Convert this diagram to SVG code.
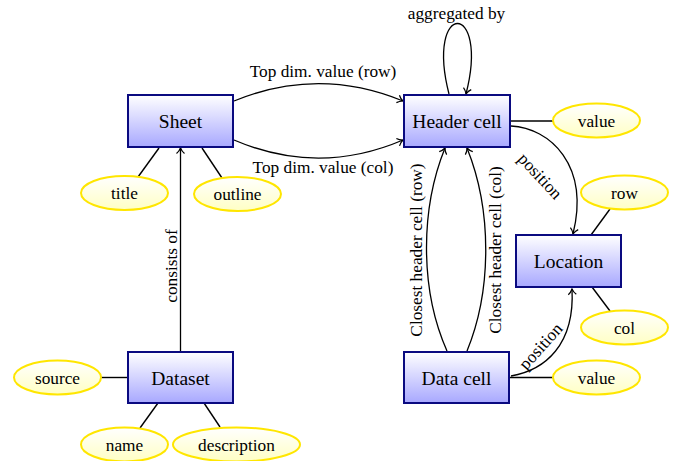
<svg xmlns="http://www.w3.org/2000/svg" width="676" height="461" viewBox="0 0 676 461">
<style>
.box{stroke:#0a0a80;stroke-width:2;fill:url(#gb)}
.ell{stroke:#ffe600;stroke-width:2;fill:url(#gy)}
.nt{font-family:"Liberation Serif","Times New Roman",serif;font-size:19.5px;fill:#000;text-anchor:middle}
.et{font-family:"Liberation Serif","Times New Roman",serif;font-size:17.3px;fill:#000;text-anchor:middle}
.ln{stroke:#000;stroke-width:1.4;fill:none}
.ar{stroke:#000;stroke-width:1.3;fill:none;marker-end:url(#arr)}
</style>
<defs>
<linearGradient id="gb" x1="0" y1="0" x2="0" y2="1"><stop offset="0" stop-color="#ffffff"/><stop offset="1" stop-color="#a8a8ff"/></linearGradient>
<linearGradient id="gy" x1="0" y1="0" x2="0" y2="1"><stop offset="0" stop-color="#ffffff"/><stop offset="1" stop-color="#ffffc4"/></linearGradient>
<marker id="arr" markerUnits="userSpaceOnUse" markerWidth="12" markerHeight="12" viewBox="-8 -6 12 12" refX="0" refY="0" orient="auto" overflow="visible">
<path d="M-5.5,-4 C-3.5,-1.5 -1,-0.4 0,0 C-1,0.4 -3.5,1.5 -5.5,4" fill="none" stroke="#000" stroke-width="1.2"/>
</marker>
</defs>
<rect width="676" height="461" fill="#ffffff"/>
<g id="connectors">
<path class="ar" d="M234,101 C290,78 347,78 403,101"/>
<path class="ar" d="M234,140 C290,164 347,164 403,140"/>
<path class="ar" d="M449,94 C425,0 490,0 466,94"/>
<path class="ar" d="M511,126 C550,128 590,165 573,234"/>
<path class="ar" d="M511,376 C545,370 575,345 572,289"/>
<path class="ar" d="M447,351 C420,290 420,210 445,148"/>
<path class="ar" d="M467,351 C492,290 492,210 467,148"/>
<path class="ar" d="M180.5,351 L180.5,148"/>
<line class="ln" x1="159" y1="148" x2="138" y2="177"/>
<line class="ln" x1="202" y1="148" x2="222" y2="178"/>
<line class="ln" x1="511" y1="121" x2="553" y2="121"/>
<line class="ln" x1="610" y1="209" x2="591" y2="235"/>
<line class="ln" x1="592" y1="287" x2="610" y2="311"/>
<line class="ln" x1="510" y1="377.5" x2="553" y2="377.5"/>
<line class="ln" x1="101" y1="377.5" x2="128" y2="377.5"/>
<line class="ln" x1="158" y1="403" x2="140" y2="428"/>
<line class="ln" x1="204" y1="403" x2="220" y2="427"/>
<text class="et" x="323" y="77">Top dim. value (row)</text>
<text class="et" x="323" y="173">Top dim. value (col)</text>
<text class="et" x="456.5" y="19">aggregated by</text>
<text class="et" x="536" y="180" transform="rotate(47 536 180)">position</text>
<text class="et" x="545" y="350" transform="rotate(-48 545 350)">position</text>
<text class="et" x="422" y="250" transform="rotate(-90 422 250)">Closest header cell (row)</text>
<text class="et" x="501" y="250" transform="rotate(-90 501 250)">Closest header cell (col)</text>
<text class="et" x="177" y="266" transform="rotate(-90 177 266)">consists of</text>
</g>
<g id="sheet"><rect class="box" x="128" y="95" width="105" height="52"/><text class="nt" x="180.5" y="128">Sheet</text></g>
<g id="header-cell"><rect class="box" x="404" y="95" width="106" height="52"/><text class="nt" x="457" y="128">Header cell</text></g>
<g id="location"><rect class="box" x="516" y="235" width="105" height="52"/><text class="nt" x="568.5" y="268">Location</text></g>
<g id="data-cell"><rect class="box" x="404" y="352" width="105" height="51"/><text class="nt" x="456.5" y="384.5">Data cell</text></g>
<g id="dataset"><rect class="box" x="128" y="352" width="105" height="51"/><text class="nt" x="180.5" y="384.5">Dataset</text></g>
<g id="title"><ellipse class="ell" cx="124.5" cy="193" rx="43.5" ry="17"/><text class="et" x="124.5" y="199">title</text></g>
<g id="outline"><ellipse class="ell" cx="237.5" cy="194" rx="43.5" ry="17"/><text class="et" x="237.5" y="200">outline</text></g>
<g id="value-header"><ellipse class="ell" cx="596.5" cy="120.5" rx="43.5" ry="17"/><text class="et" x="596.5" y="127">value</text></g>
<g id="row"><ellipse class="ell" cx="624.5" cy="192.5" rx="43.5" ry="17"/><text class="et" x="624.5" y="198.5">row</text></g>
<g id="col"><ellipse class="ell" cx="624.5" cy="327.5" rx="43.5" ry="17"/><text class="et" x="624.5" y="333.5">col</text></g>
<g id="value-data"><ellipse class="ell" cx="596.5" cy="377.5" rx="43.5" ry="17"/><text class="et" x="596.5" y="383.5">value</text></g>
<g id="source"><ellipse class="ell" cx="57.5" cy="377.5" rx="43.5" ry="17"/><text class="et" x="57.5" y="383.5">source</text></g>
<g id="name"><ellipse class="ell" cx="124.5" cy="444.5" rx="43.5" ry="17"/><text class="et" x="124.5" y="450.5">name</text></g>
<g id="description"><ellipse class="ell" cx="236.5" cy="444.5" rx="63.5" ry="17"/><text class="et" x="236.5" y="450.5">description</text></g>
</svg>
